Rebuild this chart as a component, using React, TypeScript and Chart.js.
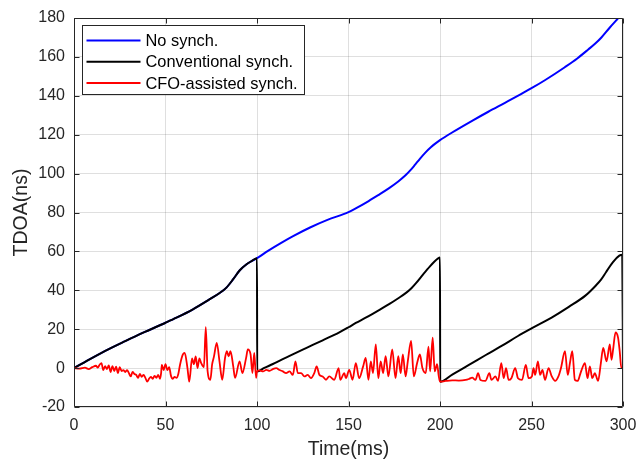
import React, { useEffect, useRef } from "react";
import { Chart, registerables } from "chart.js";

Chart.register(...registerables);

const FONT = "'Liberation Sans', Arial, Helvetica, sans-serif";

const xTickValues = [0, 50, 100, 150, 200, 250, 300];
const yTickValues = [-20, 0, 20, 40, 60, 80, 100, 120, 140, 160, 180];

const seriesLabels = ["No synch.", "Conventional synch.", "CFO-assisted synch."];
const seriesColors = ["#0000ff", "#000000", "#ff0000"];

const noSynchX = [0, 10, 19, 28, 37.5, 50, 56, 65, 74, 79.6, 83.3, 87, 90.6, 94.3, 97, 100, 106, 113, 120, 129, 138.5, 150, 156, 161, 166, 172, 177, 181, 184, 186.4, 189, 192, 195, 197.4, 200, 206.4, 217.3, 226.4, 235.5, 244.5, 250, 257.3, 268.2, 275, 281, 285, 288.2, 292.7, 297.3, 300];
const noSynchY = [0, 5.3, 9.8, 13.9, 18.1, 23.3, 25.9, 30.2, 35.3, 38.6, 41.4, 45.7, 50.3, 53.4, 55, 56.5, 60.3, 64.3, 68, 72.3, 76.2, 80.2, 83.2, 85.9, 88.8, 92.4, 95.8, 99, 101.9, 104.6, 107.6, 110.8, 113.5, 115.4, 117.2, 121, 127, 131.8, 136.4, 141, 143.9, 148, 154.7, 159.2, 163.8, 167, 170, 175, 179.8, 182.6];

const convX = [0, 10, 19, 28, 37.5, 50, 56, 65, 74, 79.6, 83.3, 87, 90.6, 94.3, 97, 100, 100.1, 104, 108.7, 117.8, 126.8, 135.9, 145, 150, 154, 159.4, 163.2, 166.7, 172.4, 177, 181.6, 184.5, 187, 190.8, 194.5, 197, 199, 200, 200.1, 206.7, 215.8, 224.8, 233.9, 242.6, 250, 261, 270.4, 279.6, 285.2, 288, 290.7, 294.4, 298, 299.6, 300];
const convY = [0, 5.3, 9.8, 13.9, 18.1, 23.3, 25.9, 30.2, 35.3, 38.6, 41.4, 45.7, 50.3, 53.4, 55, 56.5, -1.7, 0.1, 2.1, 6.3, 10.3, 14.3, 18.4, 21, 23.2, 25.9, 27.9, 29.8, 33, 35.8, 38.8, 41.2, 43.8, 48.2, 52.3, 54.8, 56.4, 56.8, -7, -3.3, 1.6, 6.6, 11.5, 16.5, 20.4, 26, 31.5, 37.4, 42.5, 45.5, 49.3, 54.4, 57.8, 58.3, 0.5];

const cfoX = [0, 3, 6, 8, 10, 12, 13, 14, 15, 16, 17, 18, 19, 20, 21, 22, 23, 24, 25, 26, 27, 28, 29, 30, 31, 32, 33, 34, 35, 36, 37, 38, 39, 40, 41, 42, 43, 44, 45, 46, 47, 47.6, 48, 49, 50, 51, 52, 53, 54, 55, 56, 57, 58, 59.5, 60.5, 62, 63, 64.5, 65.5, 66.5, 67.5, 68.5, 69.5, 71, 72, 73, 74.5, 75.5, 76.5, 78, 79.5, 81, 82.5, 83.5, 84.5, 85.5, 87, 88, 90.5, 92, 94, 95, 96.5, 97.5, 98.5, 99.5, 100,
  101.4, 103.3, 105.1, 106.9, 108.7, 110.5, 112.3, 114.1, 115.9, 117.8, 119.6, 121, 122.3, 124.1, 125.9, 127.7, 129.5, 131.3, 132.6, 134.1, 135.9, 137.7, 139.5, 142.2, 144.6, 145.5, 147.7, 148.6, 150.4, 152.2, 154, 155.8, 158, 159.4, 160.9, 162.2, 163.4, 164.9, 166.3, 167.6, 168.9, 170.3, 171.8, 173.9, 175.7, 177.2, 178.5, 179.7, 181.2, 182.4, 184.2, 185.7, 187.5, 189, 190.4, 192.2, 193.7, 194.6, 196, 197.1, 198.4, 199.3, 200,
  203.1, 206.7, 210.3, 214, 215.8, 217.6, 219.4, 220.8, 222.1, 224.8, 227, 228.1, 230.3, 231.7, 233.5, 234.8, 236.1, 237.5, 239, 241.1, 242.6, 244.8, 246.9, 248.4, 250.2, 251.1, 252, 253.5, 254.7, 256, 257.4, 259.3, 261.1, 262.9, 264.7, 266.1, 268.3, 269.8, 271, 272.3, 273.7, 275.2, 276.5, 277.4, 279.2, 280.6, 281.9, 283.2, 284.6, 286.4, 287.9, 289.2, 291, 292.8, 293.7, 294.6, 295.9, 297.3, 298.2, 299.1, 300];
const cfoY = [0, -0.3, 0.2, -0.5, 0.5, 1.2, 0.3, 1.7, 2.6, -1, 1, -0.5, 1.4, -2, 1, -1.5, 0.8, -2.5, 0.5, -1.5, -1, -2, -1, -2.6, -4.3, -2, -3, -3.5, -5, -3, -4.5, -3.5, -5, -7, -5.5, -4.5, -5.5, -4, -5, -3.5, -5.5, -2.6, 1.7, -1, 2, -1, 0.5, -4, -5.5, -4.5, -5, -3, 2, 7, 7.8, 0, -7, 5, 2, 6, 0, 5, 2.6, 0.5, 21, -1.5, -6, 2, 6, 13, 3.5, -6, 5, 8.7, 6, 8.7, 1, -5, 3.5, -2.6, 5, 9.6, 7, -2.6, 7.8, -5, -1.7,
  -1.2, -1.7, -0.9, -1.4, -0.5, 0, -1, -1.7, -2.6, -1.7, -3.5, 3.5, -2.6, -2.6, -4.3, -3.5, -5.2, -2.6, 0.9, -3.5, -4.3, -6, -4.3, -6, 0, -6, -2.6, -5.2, -0.9, -6, 2.6, -5.2, 0.9, 5.2, -6, 3.5, -2.6, 12.2, -5.2, 3.5, -2.6, 6.1, -4.3, 9.6, -5.2, 6.1, -2.6, 7, -4.3, 3.5, 14, -4.3, 2.6, 7, 0, -2.6, 11, -1.7, 15.7, -1.7, 2, -4, -7,
  -6.6, -6.3, -6.4, -6.1, -5.6, -4.9, -6.1, -2.6, -6.1, -6.6, -2.6, -6.1, -4.3, -6.6, 2.6, -5.2, 0, -6.1, -5.2, 0, -5.2, -6.1, 1.7, -5.2, -4.3, 0, -3.5, 3.5, -3.5, -0.9, -6.1, 0, -4.3, -6.6, -4.3, 0, 8.7, -3.5, 2.6, 8.7, -6.1, -6.6, -3.5, -0.9, 2.6, -5.2, 0.9, -5.2, -2.6, -6.6, 2.6, 10.4, 3.5, 12.2, 4.3, 9.6, 18.3, 15.7, 8.7, 0, 0];

const toPoints = (xs: number[], ys: number[]) => xs.map((x, i) => ({ x, y: ys[i] }));

const framePlugin = {
  id: "matlabFrame",
  afterDraw(chart: any) {
    const { ctx, chartArea } = chart;
    const { left, right, top, bottom } = chartArea;
    const xs = chart.scales.x;
    const ys = chart.scales.y;
    ctx.save();
    ctx.strokeStyle = "#262626";
    ctx.lineWidth = 1;
    const L = Math.round(left) + 0.5;
    const R = Math.round(right) - 0.5;
    const T = Math.round(top) + 0.5;
    const B = Math.round(bottom) - 0.5;
    ctx.beginPath();
    ctx.rect(L, T, R - L, B - T);
    ctx.stroke();
    const tl = 5;
    ctx.beginPath();
    xTickValues.forEach((v) => {
      const px = Math.round(xs.getPixelForValue(v)) + 0.5;
      ctx.moveTo(px, B);
      ctx.lineTo(px, B - tl);
      ctx.moveTo(px, T);
      ctx.lineTo(px, T + tl);
    });
    yTickValues.forEach((v) => {
      const py = Math.round(ys.getPixelForValue(v)) + 0.5;
      ctx.moveTo(L, py);
      ctx.lineTo(L + tl, py);
      ctx.moveTo(R, py);
      ctx.lineTo(R - tl, py);
    });
    ctx.stroke();

    // legend
    const bx = Math.round(left) + 8.5;
    const by = Math.round(top) + 7.5;
    const bw = 222;
    const bh = 69;
    ctx.fillStyle = "#ffffff";
    ctx.fillRect(bx, by, bw, bh);
    ctx.strokeStyle = "#262626";
    ctx.strokeRect(bx, by, bw, bh);
    ctx.font = `16.4px ${FONT}`;
    ctx.textBaseline = "middle";
    ctx.textAlign = "left";
    seriesLabels.forEach((lab, i) => {
      const cy = by + 15 + i * 21.3;
      ctx.strokeStyle = seriesColors[i];
      ctx.lineWidth = 2;
      ctx.beginPath();
      ctx.moveTo(bx + 4, cy);
      ctx.lineTo(bx + 58, cy);
      ctx.stroke();
      ctx.fillStyle = "#000000";
      ctx.fillText(lab, bx + 63, cy + 1);
    });
    ctx.restore();
  },
};

export default function App() {
  const ref = useRef<HTMLCanvasElement | null>(null);
  useEffect(() => {
    document.body.style.margin = "0";
    const canvas = ref.current;
    if (!canvas) return;
    const gridColor = "rgba(38,38,38,0.15)";
    const tickColor = "#262626";
    const chart = new Chart(canvas, {
      type: "line",
      data: {
        datasets: [
          {
            label: seriesLabels[0],
            data: toPoints(noSynchX, noSynchY),
            borderColor: seriesColors[0],
            borderWidth: 2,
            pointRadius: 0,
            cubicInterpolationMode: "monotone",
            order: 3,
          },
          {
            label: seriesLabels[1],
            data: toPoints(convX, convY),
            borderColor: seriesColors[1],
            borderWidth: 2,
            pointRadius: 0,
            cubicInterpolationMode: "monotone",
            order: 2,
          },
          {
            label: seriesLabels[2],
            data: toPoints(cfoX, cfoY),
            borderColor: seriesColors[2],
            borderWidth: 1.8,
            pointRadius: 0,
            cubicInterpolationMode: "monotone",
            order: 1,
          },
        ],
      },
      options: {
        responsive: false,
        animation: false,
        events: [],
        layout: { padding: { left: 0, top: 18, right: 17, bottom: 0 } },
        plugins: { legend: { display: false }, tooltip: { enabled: false } },
        scales: {
          x: {
            type: "linear",
            min: 0,
            max: 300,
            afterFit: (s: any) => {
              s.height = 55;
              s.paddingLeft = 0;
              s.paddingRight = 0;
            },
            afterBuildTicks: (s: any) => {
              s.ticks = xTickValues.map((v) => ({ value: v }));
            },
            grid: { color: gridColor, drawTicks: false },
            border: { display: false },
            ticks: {
              color: tickColor,
              font: { family: FONT, size: 16 },
              padding: 9,
              maxRotation: 0,
            },
            title: {
              display: true,
              text: "Time(ms)",
              color: tickColor,
              font: { family: FONT, size: 19.5 },
              padding: { top: 0, bottom: 1 },
            },
          },
          y: {
            type: "linear",
            min: -20,
            max: 180,
            afterFit: (s: any) => {
              s.width = 74;
              s.paddingTop = 0;
              s.paddingBottom = 0;
            },
            afterBuildTicks: (s: any) => {
              s.ticks = yTickValues.map((v) => ({ value: v }));
            },
            grid: { color: gridColor, drawTicks: false },
            border: { display: false },
            ticks: {
              color: tickColor,
              font: { family: FONT, size: 16 },
              padding: 9,
            },
            title: {
              display: true,
              text: "TDOA(ns)",
              color: tickColor,
              font: { family: FONT, size: 19.5 },
              padding: { top: 10, bottom: 0 },
            },
          },
        },
      },
      plugins: [framePlugin],
    } as any);
    return () => chart.destroy();
  }, []);
  return <canvas ref={ref} width={640} height={462} style={{ display: "block" }} />;
}
